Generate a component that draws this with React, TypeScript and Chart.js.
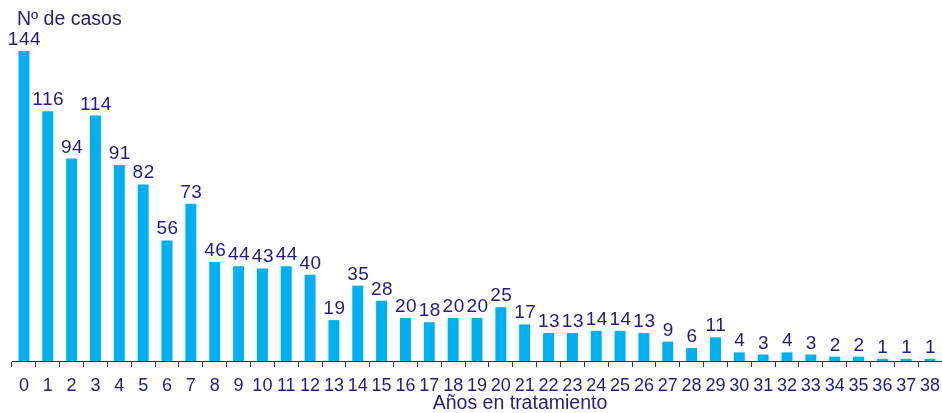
import React, { useEffect, useRef } from "react";
import { Chart, registerables } from "chart.js";

Chart.register(...registerables);

const categories = Array.from({ length: 39 }, (_, i) => String(i));
const casos = [144, 116, 94, 114, 91, 82, 56, 73, 46, 44, 43, 44, 40, 19, 35, 28, 20, 18, 20, 20, 25, 17, 13, 13, 14, 14, 13, 9, 6, 11, 4, 3, 4, 3, 2, 2, 1, 1, 1];
const yTitle = "Nº de casos";
const xTitle = "Años en tratamiento";

const NAVY = "#1c1c8c";
const FONT = "'Liberation Sans', Arial, sans-serif";

const labelsPlugin = {
  id: "labelsPlugin",
  afterDatasetsDraw(chart: any) {
    const ctx = chart.ctx;
    const meta = chart.getDatasetMeta(0);
    const xs = chart.scales.x;
    ctx.save();
    ctx.fillStyle = NAVY;
    ctx.textAlign = "center";
    ctx.textBaseline = "alphabetic";
    ctx.font = `19px ${FONT}`;
    (ctx as any).letterSpacing = "0.5px";
    meta.data.forEach((bar: any, i: number) => {
      ctx.fillText(String(casos[i]), bar.x + 0.5, bar.y - 6);
    });
    (ctx as any).letterSpacing = "0px";
    ctx.font = `18px ${FONT}`;
    categories.forEach((c, i) => {
      ctx.fillText(c, xs.getPixelForValue(i), xs.bottom + 24);
    });
    ctx.font = `19.5px ${FONT}`;
    ctx.textAlign = "left";
    ctx.fillText(yTitle, 17, 25);
    ctx.textAlign = "center";
    ctx.fillText(xTitle, 520, 409);
    ctx.restore();
  },
};

export default function App() {
  const ref = useRef<HTMLCanvasElement>(null);
  useEffect(() => {
    document.body.style.margin = "0";
    const chart = new Chart(ref.current!, {
      type: "bar",
      data: {
        labels: categories,
        datasets: [
          {
            data: casos,
            backgroundColor: "#00b0f0",
            barPercentage: 0.46,
            categoryPercentage: 1,
          },
        ],
      },
      options: {
        animation: false,
        responsive: false,
        maintainAspectRatio: false,
        layout: { padding: { top: 38, left: 12, right: 0, bottom: 46 } },
        plugins: { legend: { display: false }, tooltip: { enabled: false } },
        scales: {
          y: { display: false, min: 0, max: 150 },
          x: {
            grid: {
              display: true,
              drawOnChartArea: false,
              drawTicks: true,
              tickLength: 6,
              color: "#333",
              offset: true,
            },
            border: { display: true, color: "#333", width: 1 },
            ticks: { display: false, autoSkip: false },
          },
        },
      },
      plugins: [labelsPlugin],
    });
    return () => chart.destroy();
  }, []);
  return (
    <div style={{ width: 942, height: 413, position: "relative" }}>
      <canvas ref={ref} width={942} height={413} />
    </div>
  );
}
